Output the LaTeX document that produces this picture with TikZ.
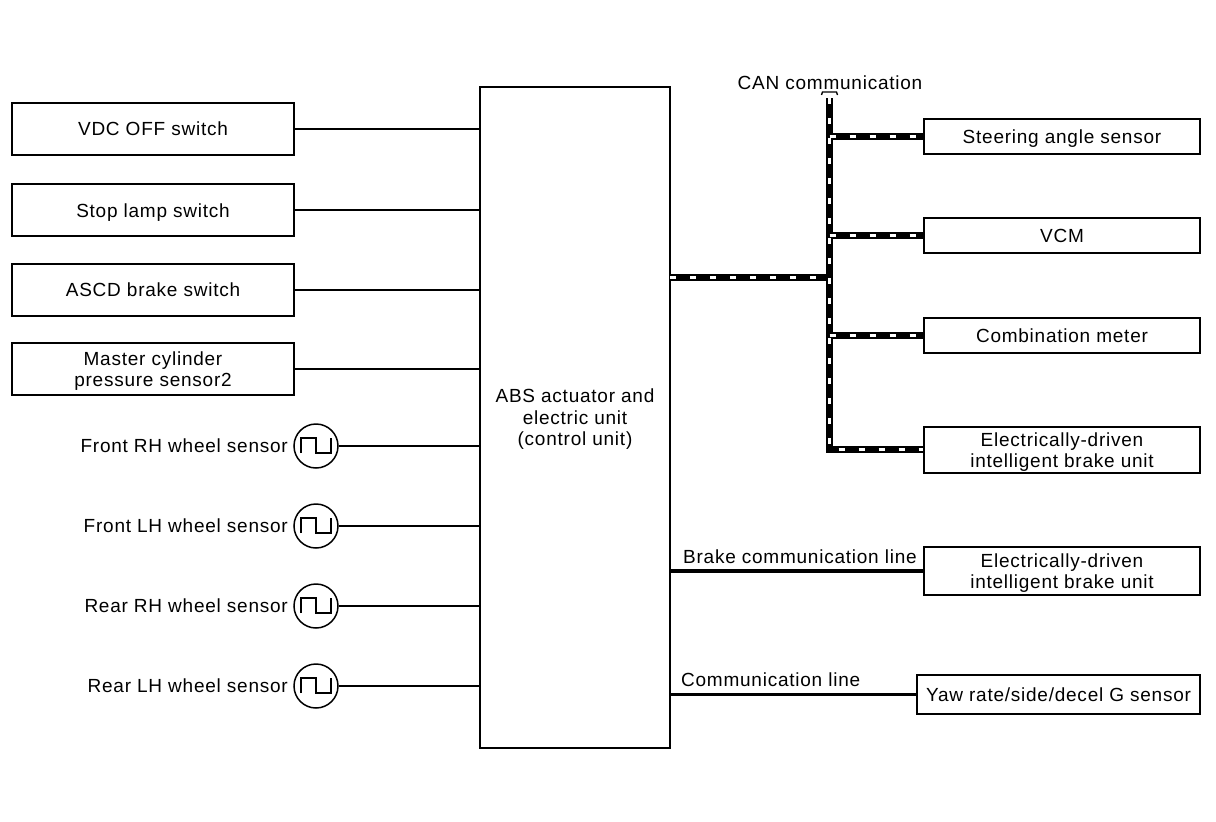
\documentclass[tikz,border=0pt]{standalone}
\usepackage{fontspec}
\setmainfont{Liberation Sans}[LetterSpace=4]
\newcommand\lowtxt[1]{\raisebox{-2.5pt}[\height][\depth]{#1}}
\newcommand\twoline[2]{\lowtxt{\begin{tabular}{@{}c@{}}#1\\#2\end{tabular}}}
\begin{document}
\begin{tikzpicture}[x=1pt,y=-1pt,
  every node/.style={font=\fontsize{19}{21.5}\selectfont, inner sep=0pt},
  box/.style={draw, line width=1.8pt, rectangle, align=center},
  conn/.style={line width=1.5pt},
  sens/.style={draw, circle, line width=1.5pt, minimum size=44pt},
  canblack/.style={line width=7pt, line join=miter},
  canwhite/.style={line width=3pt, white, dash pattern=on 6pt off 14pt},
]
\useasboundingbox[fill=white] (0,0) rectangle (1216,822);

% left boxes
\node[box, minimum width=282pt, minimum height=52pt] (vdc) at (153,129) {VDC OFF switch};
\node[box, minimum width=282pt, minimum height=52pt] (stop) at (153,210) {\lowtxt{Stop lamp switch}};
\node[box, minimum width=282pt, minimum height=52pt] (ascd) at (153,290) {ASCD brake switch};
\node[box, minimum width=282pt, minimum height=52pt] (mcp) at (153,369) {\twoline{Master cylinder}{pressure sensor2}};

% ABS unit
\node[box, minimum width=190pt, minimum height=661pt] (abs) at (575,417.5) {\lowtxt{\begin{tabular}{@{}c@{}}ABS actuator and\\electric unit\\(control unit)\end{tabular}}};

% wheel sensors
\foreach \n/\yy/\t in {s1/446/Front RH wheel sensor, s2/526/Front LH wheel sensor, s3/606/Rear RH wheel sensor, s4/686/Rear LH wheel sensor}{
  \node[sens] (\n) at (316,\yy) {};
  \node[anchor=east] (\n l) at (288,\yy) {\t};
  \draw[line width=1.3pt] ([shift={(-15,7)}]\n.center) -- ++(0,-15) -- ++(15,0) -- ++(0,15) -- ++(15,0) -- ++(0,-15);
  \draw[conn] (\n.east) -- (\n.east -| abs.west);
}

% left connectors
\foreach \b in {vdc,stop,ascd,mcp}{
  \draw[conn] (\b.east) -- (\b.east -| abs.west);
}

% right boxes
\node[box, minimum width=276pt, minimum height=35pt] (steer) at (1062,136.5) {\lowtxt{Steering angle sensor}};
\node[box, minimum width=276pt, minimum height=35pt] (vcm) at (1062,235.5) {VCM};
\node[box, minimum width=276pt, minimum height=35pt] (comb) at (1062,335.5) {Combination meter};
\node[box, minimum width=276pt, minimum height=46pt] (edib1) at (1062,450) {\twoline{Electrically-driven}{intelligent brake unit}};
\node[box, minimum width=276pt, minimum height=48pt] (edib2) at (1062,571) {\twoline{Electrically-driven}{intelligent brake unit}};
\node[box, minimum width=283pt, minimum height=39pt] (yaw) at (1058.5,694.5) {Yaw rate/side/decel G sensor};

% CAN bus
\coordinate (cantop) at (829.5,98);
\coordinate (canbot) at (829.5,449);
\coordinate (canin) at (670,277);
\node[anchor=base] (canlbl) at (830,89) {CAN communication};
\draw[line width=1.3pt] ([xshift=-8pt,yshift=3pt]cantop) -- ++(1,-3) -- ++(14,0) -- ++(1,3);

\foreach \p in {canblack, canwhite}{
  \draw[\p] (cantop) -- (canbot) -- (canbot -| edib1.west);
  \draw[\p] (canin) -- (canin -| cantop);
  \draw[\p] (steer.west -| cantop) -- (steer.west);
  \draw[\p] (vcm.west -| cantop) -- (vcm.west);
  \draw[\p] (comb.west -| cantop) -- (comb.west);
}

% brake communication line
\draw[line width=4pt] (edib2.west -| abs.east) -- (edib2.west);
\node[anchor=base west] (brklbl) at (683,563) {Brake communication line};

% communication line
\draw[line width=3pt] (yaw.west -| abs.east) -- (yaw.west);
\node[anchor=base west] (comlbl) at (681,686) {Communication line};
\end{tikzpicture}
\end{document}
